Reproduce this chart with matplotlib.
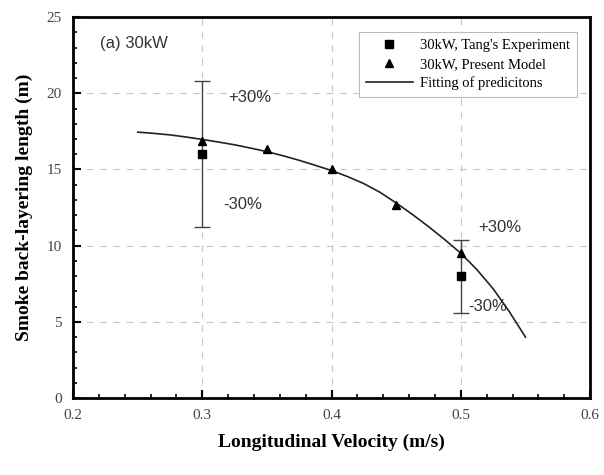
import matplotlib
matplotlib.use('Agg')
import matplotlib.pyplot as plt
from matplotlib.ticker import MultipleLocator

# Tang's experiment (30kW)
exp_x = [0.3, 0.5]
exp_y = [16.0, 8.0]
exp_err = [0.3 * v for v in exp_y]   # +-30%

# present model
mod_x = [0.3, 0.35, 0.4, 0.45, 0.5]
mod_y = [16.9, 16.35, 15.05, 12.65, 9.5]

# fitting curve
fit_x = [0.25, 0.2625, 0.275, 0.2875, 0.3, 0.3125, 0.325, 0.3375, 0.35, 0.3625, 0.375, 0.3875,
         0.4, 0.4125, 0.425, 0.4375, 0.45, 0.4625, 0.475, 0.4875, 0.5, 0.5125, 0.525, 0.5375, 0.55]
fit_y = [17.45, 17.37, 17.27, 17.13, 16.97, 16.8, 16.62, 16.4, 16.17, 15.9, 15.6, 15.27,
         14.93, 14.53, 14.07, 13.5, 12.8, 12.05, 11.25, 10.4, 9.5, 8.42, 7.17, 5.67, 4.0]

plt.rcParams['font.family'] = ['Liberation Serif', 'DejaVu Serif']

fig = plt.figure(figsize=(6.04, 4.75), dpi=100)
ax = fig.add_axes([0.121, 0.162, 0.856, 0.802])

ax.grid(True, which='major', color='#c8c8c8', linestyle=(0, (6, 6)), linewidth=0.8)
ax.set_axisbelow(True)

ax.errorbar(exp_x, exp_y, yerr=exp_err, fmt='none', ecolor='#444444',
            elinewidth=1.0, capsize=6, capthick=1.0, zorder=3)
l_exp, = ax.plot(exp_x, exp_y, 's', color='black', markersize=6, linestyle='none',
                 label="30kW, Tang's Experiment", zorder=5)
l_mod, = ax.plot(mod_x, mod_y, '^', color='black', markersize=6, linestyle='none',
                 label='30kW, Present Model', zorder=5)
l_fit, = ax.plot(fit_x, fit_y, color='#222222', linewidth=1.2,
                 label='Fitting of predicitons', zorder=4)

ax.set_xlim(0.2, 0.6)
ax.set_ylim(0, 25)
ax.xaxis.set_major_locator(MultipleLocator(0.1))
ax.xaxis.set_minor_locator(MultipleLocator(0.02))
ax.yaxis.set_major_locator(MultipleLocator(5))
ax.yaxis.set_minor_locator(MultipleLocator(1))
ax.tick_params(which='major', direction='in', length=6, width=1.5, labelsize=11,
               labelcolor='#444444', top=False, right=False, pad=8)
ax.tick_params(which='minor', direction='in', length=3, width=1.2, top=False, right=False)
for s in ax.spines.values():
    s.set_linewidth(2)

ax.set_xlabel('Longitudinal Velocity (m/s)', fontsize=14, fontweight='bold', labelpad=8)
ax.set_ylabel('Smoke back-layering length (m)', fontsize=14, fontweight='bold', labelpad=10)

sans = ['Liberation Sans', 'DejaVu Sans']
ax.text(0.221, 23.3, '(a) 30kW', fontsize=12, family=sans, color='#333333', va='center')
ax.text(0.337, 19.75, '+30%', fontsize=12, family=sans, color='#333333', ha='center', va='center')
ax.text(0.331, 12.7, '-30%', fontsize=12, family=sans, color='#333333', ha='center', va='center')
ax.text(0.530, 11.2, '+30%', fontsize=12, family=sans, color='#333333', ha='center', va='center')
ax.text(0.521, 6.0, '-30%', fontsize=12, family=sans, color='#333333', ha='center', va='center')

leg = ax.legend([l_exp, l_mod, l_fit], [l_exp.get_label(), l_mod.get_label(), l_fit.get_label()],
                loc='upper right', bbox_to_anchor=(0.975, 0.961), borderaxespad=0,
                fontsize=10.5, fancybox=False, framealpha=1, edgecolor='#bbbbbb',
                handlelength=3.2, borderpad=0.5, labelspacing=0.35, handletextpad=0.5)
leg.get_frame().set_linewidth(0.8)

fig.savefig('out.png', dpi=100)
